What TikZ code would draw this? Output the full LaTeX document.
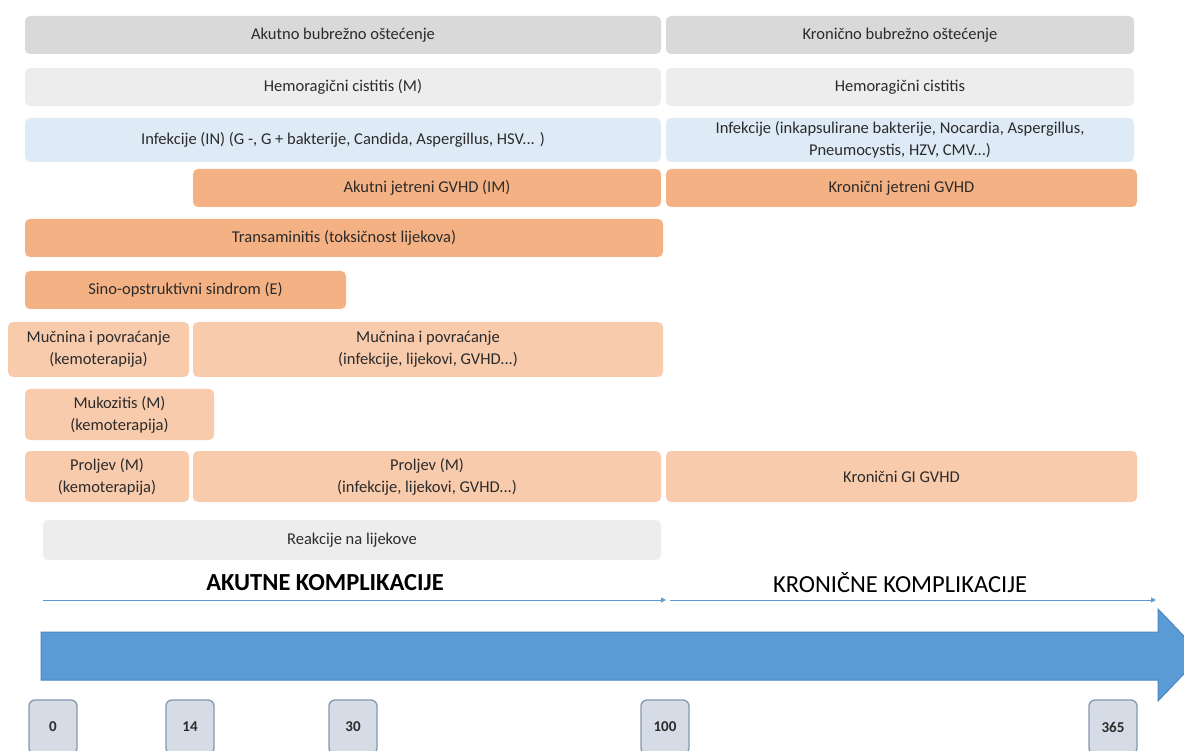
\documentclass[tikz,border=0pt]{standalone}
\usepackage{fontspec}
\setmainfont{Carlito}
\usetikzlibrary{arrows.meta}
\definecolor{cgray}{HTML}{D9D9D9}
\definecolor{clgray}{HTML}{EDEDED}
\definecolor{cblue}{HTML}{DEEBF7}
\definecolor{corange}{HTML}{F4B183}
\definecolor{clorange}{HTML}{F8CBAD}
\definecolor{ctext}{HTML}{2B2B2B}
\definecolor{carrow}{HTML}{5B9BD5}
\definecolor{carrowd}{HTML}{4A86BF}
\definecolor{cday}{HTML}{D6DCE5}
\definecolor{cdayb}{HTML}{8497B0}
\tikzset{
  bx/.style={rounded corners=5pt, inner sep=0pt, outer sep=0pt, anchor=north west,
    align=center, text=ctext, font=\fontsize{16.5}{22}\selectfont},
  gbox/.style={bx, fill=cgray},
  lgbox/.style={bx, fill=clgray},
  bbox/.style={bx, fill=cblue},
  obox/.style={bx, fill=corange},
  lobox/.style={bx, fill=clorange},
  daybox/.style={rounded corners=6pt, draw=cdayb, line width=1.3pt, fill=cday,
    minimum width=48pt, minimum height=54pt, inner sep=0pt,
    font=\bfseries\fontsize{15}{17}\selectfont, text=ctext},
  thinarrow/.style={carrow, line width=1pt, -{Triangle[length=5pt,width=5pt]}},
}
\begin{document}
\begin{tikzpicture}[x=1pt,y=-1pt]
\useasboundingbox (0,0) rectangle (1184,751);
% row 1
\node[gbox, minimum width=636pt, minimum height=38pt] (akb) at (25,16) {Akutno bubrežno oštećenje};
\node[gbox, minimum width=468pt, minimum height=38pt] (kkb) at (666,16) {Kronično bubrežno oštećenje};
% row 2
\node[lgbox, minimum width=636pt, minimum height=38pt] (hc1) at (25,68) {Hemoragični cistitis (M)};
\node[lgbox, minimum width=468pt, minimum height=38pt] (hc2) at (666,68) {Hemoragični cistitis};
% row 3
\node[bbox, minimum width=636pt, minimum height=44pt] (inf1) at (25,118) {Infekcije (IN) (G -, G + bakterije, Candida, Aspergillus, HSV... )};
\node[bbox, minimum width=468pt, minimum height=44pt] (inf2) at (666,118) {Infekcije (inkapsulirane bakterije, Nocardia, Aspergillus,\\Pneumocystis, HZV, CMV...)};
% row 4
\node[obox, minimum width=468pt, minimum height=38pt] (ajg) at (193,169) {Akutni jetreni GVHD (IM)};
\node[obox, minimum width=471pt, minimum height=38pt] (kjg) at (666,169) {Kronični jetreni GVHD};
% row 5
\node[obox, minimum width=638pt, minimum height=38pt] (tr) at (25,219) {Transaminitis (toksičnost lijekova)};
% row 6
\node[obox, minimum width=321pt, minimum height=38pt] (sos) at (25,271) {Sino-opstruktivni sindrom (E)};
% row 7
\node[lobox, minimum width=181pt, minimum height=55pt] (mp1) at (8,322) {Mučnina i povraćanje\\(kemoterapija)};
\node[lobox, minimum width=470pt, minimum height=55pt] (mp2) at (193,322) {Mučnina i povraćanje\\(infekcije, lijekovi, GVHD...)};
% row 8
\node[lobox, minimum width=189pt, minimum height=51pt] (muk) at (25,389) {Mukozitis (M)\\(kemoterapija)};
% row 9
\node[lobox, minimum width=164pt, minimum height=51pt] (pr1) at (25,451) {Proljev (M)\\(kemoterapija)};
\node[lobox, minimum width=468pt, minimum height=51pt] (pr2) at (193,451) {Proljev (M)\\(infekcije, lijekovi, GVHD...)};
\node[lobox, minimum width=471pt, minimum height=51pt] (kgi) at (666,451) {Kronični GI GVHD};
% row 10
\node[lgbox, minimum width=618pt, minimum height=40pt] (rl) at (43,520) {Reakcije na lijekove};
% headings
\node[font=\bfseries\fontsize{24.5}{28}\selectfont, text=black] (akk) at (325,583) {AKUTNE KOMPLIKACIJE};
\node[font=\fontsize{24.5}{28}\selectfont, text=black] (krk) at (900,583) {KRONIČNE KOMPLIKACIJE};
% thin arrows
\coordinate (a1s) at (43,600);
\coordinate (a1e) at (666,600);
\coordinate (a2s) at (670,600);
\coordinate (a2e) at (1156,600);
\draw[thinarrow] (a1s) -- (a1e);
\draw[thinarrow] (a2s) -- (a2e);
% big arrow
\fill[carrow, draw=carrowd, line width=1pt] (41,632) -- (1158,632) -- (1158,609) -- (1202,655) -- (1158,701) -- (1158,680) -- (41,680) -- cycle;
% day boxes
\node[daybox] (d0) at (53,727) {0};
\node[daybox] (d14) at (190,727) {14};
\node[daybox] (d30) at (353,727) {30};
\node[daybox] (d100) at (665,727) {100};
\node[daybox] (d365) at (1113,727) {365};
\end{tikzpicture}
\end{document}
